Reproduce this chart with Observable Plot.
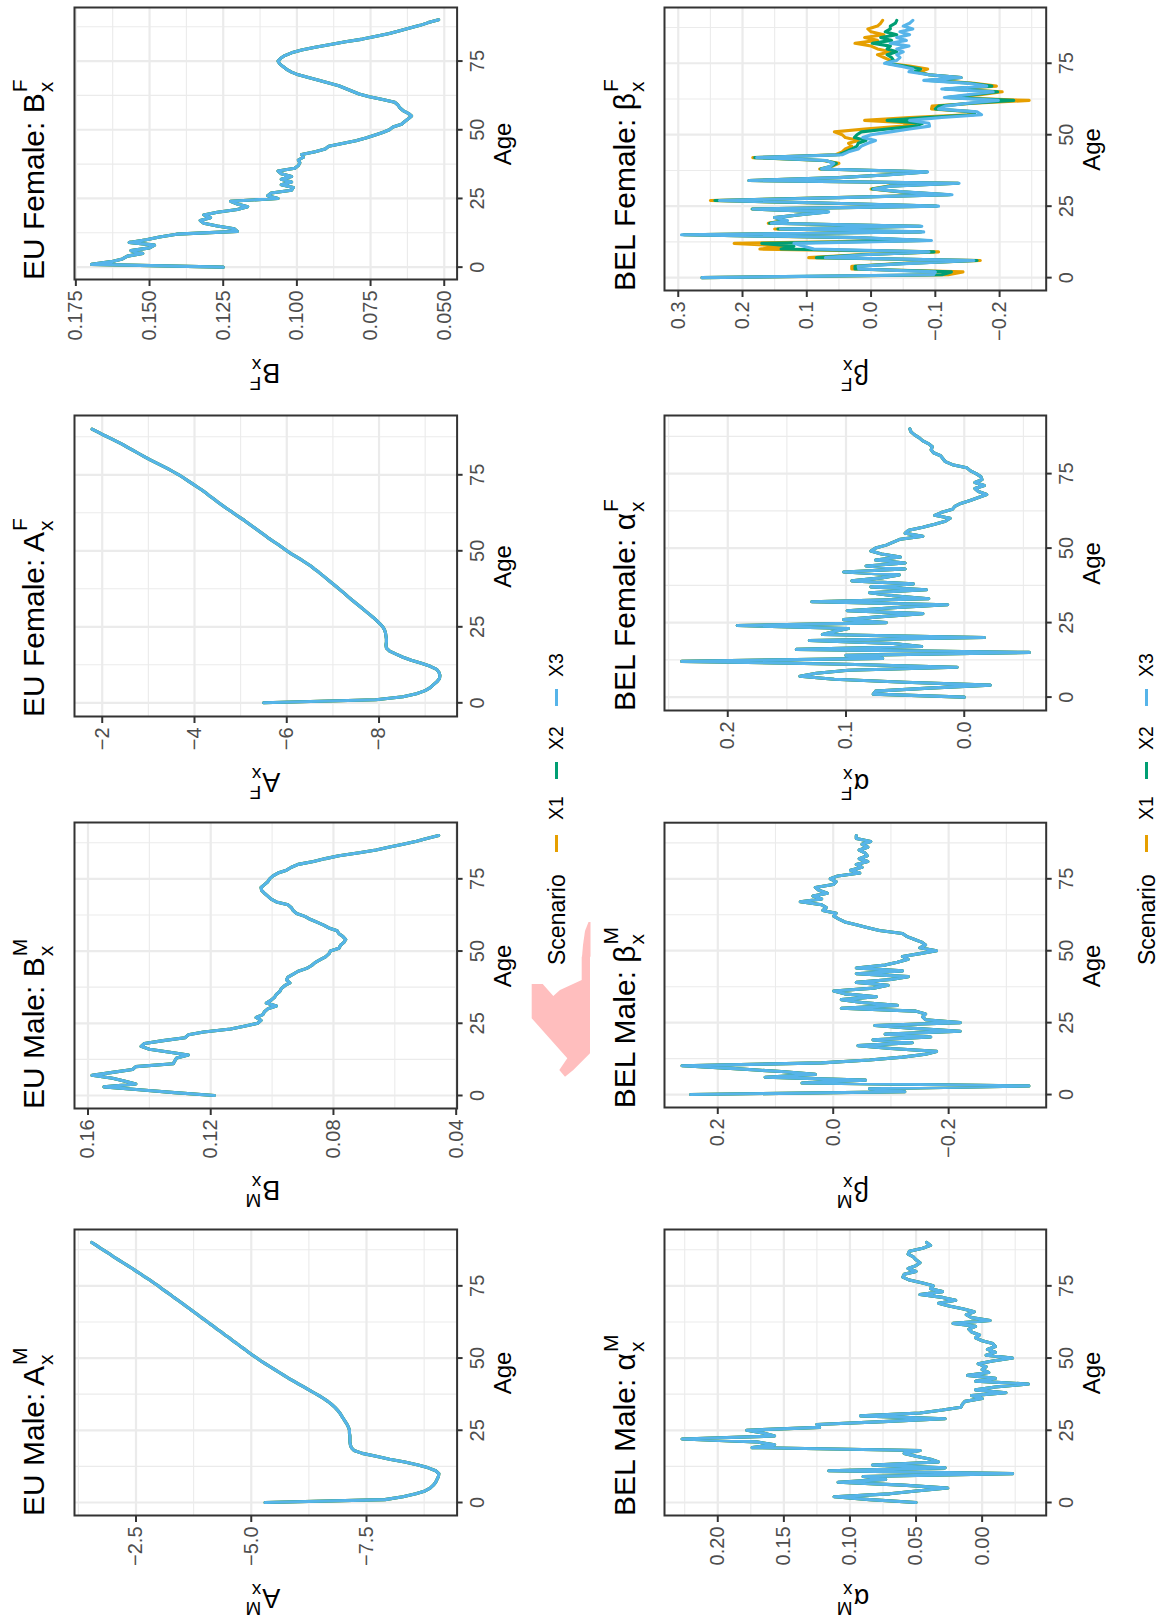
<!DOCTYPE html>
<html>
<head>
<meta charset="utf-8">
<script src="https://cdn.jsdelivr.net/npm/d3@7"></script>
<script src="https://cdn.jsdelivr.net/npm/@observablehq/plot@0.6"></script>
<style>
html,body{margin:0;padding:0;background:#fff;}
body{width:1164px;height:1621px;overflow:hidden;position:relative;}
#page{position:absolute;left:0;top:0;width:1621px;height:1164px;transform-origin:0 0;transform:translate(0px,1621px) rotate(-90deg);font-family:"Liberation Sans",Arial,Helvetica,sans-serif;color:#000;background:#fff;}
.abs{position:absolute;white-space:nowrap;line-height:1;}
</style>
</head>
<body>
<div id="page"></div>
<script>
// ---------- data ----------
const ages = d3.range(0, 91);
const scenarios = ["X1", "X2", "X3"];
const scenarioColors = ["#E69F00", "#009E73", "#56B4E9"];
const ageMajor = [0, 25, 50, 75];
const ageMinor = [12.5, 37.5, 62.5, 87.5];

const euMaleA = [-5.30,-7.90,-8.29,-8.57,-8.77,-8.88,-8.95,-9.00,-9.03,-9.06,
 -9.07,-9.00,-8.84,-8.62,-8.33,-8.00,-7.71,-7.41,-7.23,-7.17,
 -7.15,-7.14,-7.14,-7.14,-7.13,-7.13,-7.11,-7.08,-7.04,-7.00,
 -6.96,-6.92,-6.87,-6.81,-6.74,-6.66,-6.57,-6.47,-6.36,-6.25,
 -6.14,-6.03,-5.92,-5.81,-5.71,-5.61,-5.51,-5.41,-5.31,-5.21,
 -5.12,-5.03,-4.94,-4.86,-4.77,-4.69,-4.60,-4.52,-4.43,-4.35,
 -4.26,-4.18,-4.09,-4.01,-3.92,-3.84,-3.75,-3.67,-3.58,-3.50,
 -3.41,-3.32,-3.24,-3.15,-3.06,-2.98,-2.89,-2.80,-2.70,-2.61,
 -2.51,-2.42,-2.32,-2.22,-2.12,-2.02,-1.93,-1.83,-1.73,-1.64,
 -1.54];
const euMaleB = [0.1188,0.1318,0.1433,0.1548,0.1444,0.1482,0.1520,0.1587,0.1520,0.1455,
 0.1444,0.1322,0.1317,0.1311,0.1273,0.1333,0.1400,0.1427,0.1416,0.1355,
 0.1284,0.1273,0.1223,0.1135,0.1091,0.1047,0.1036,0.1052,0.1030,0.1025,
 0.1014,0.0986,0.1019,0.1003,0.0992,0.0986,0.0975,0.0970,0.0959,0.0942,
 0.0953,0.0948,0.0931,0.0915,0.0887,0.0871,0.0860,0.0843,0.0826,0.0815,
 0.0810,0.0782,0.0777,0.0766,0.0760,0.0769,0.0782,0.0788,0.0815,0.0832,
 0.0854,0.0876,0.0893,0.0920,0.0931,0.0937,0.0948,0.0986,0.1003,0.1014,
 0.1025,0.1034,0.1036,0.1025,0.1014,0.1008,0.0997,0.0981,0.0953,0.0937,
 0.0915,0.0865,0.0826,0.0782,0.0716,0.0661,0.0617,0.0573,0.0529,0.0496,
 0.0457];
const euFemaleA = [-5.50,-7.93,-8.52,-8.81,-9.00,-9.11,-9.18,-9.26,-9.31,-9.32,
 -9.30,-9.25,-9.11,-8.92,-8.70,-8.52,-8.37,-8.23,-8.16,-8.15,
 -8.16,-8.16,-8.15,-8.14,-8.12,-8.08,-8.02,-7.95,-7.88,-7.80,
 -7.72,-7.64,-7.56,-7.48,-7.40,-7.32,-7.25,-7.17,-7.09,-7.01,
 -6.93,-6.85,-6.77,-6.69,-6.60,-6.52,-6.42,-6.32,-6.21,-6.10,
 -6.00,-5.91,-5.82,-5.72,-5.62,-5.53,-5.44,-5.35,-5.26,-5.17,
 -5.08,-4.98,-4.88,-4.79,-4.69,-4.60,-4.51,-4.42,-4.33,-4.25,
 -4.16,-4.06,-3.96,-3.86,-3.76,-3.66,-3.54,-3.42,-3.29,-3.16,
 -3.03,-2.91,-2.79,-2.67,-2.55,-2.44,-2.31,-2.18,-2.04,-1.91,
 -1.78];
const euFemaleB = [0.1250,0.1697,0.1630,0.1592,0.1575,0.1523,0.1563,0.1500,0.1483,0.1569,
 0.1511,0.1466,0.1408,0.1202,0.1213,0.1270,0.1316,0.1328,0.1293,0.1316,
 0.1270,0.1202,0.1167,0.1202,0.1225,0.1064,0.1099,0.1087,0.1018,0.1012,
 0.1053,0.1018,0.1053,0.1018,0.1053,0.1064,0.1007,0.0995,0.0990,0.0995,
 0.0978,0.0984,0.0938,0.0904,0.0892,0.0846,0.0800,0.0766,0.0737,0.0709,
 0.0686,0.0674,0.0645,0.0634,0.0622,0.0611,0.0622,0.0640,0.0651,0.0657,
 0.0668,0.0709,0.0754,0.0789,0.0812,0.0835,0.0858,0.0892,0.0926,0.0961,
 0.0995,0.1018,0.1035,0.1047,0.1058,0.1064,0.1055,0.1041,0.1018,0.0984,
 0.0938,0.0886,0.0835,0.0777,0.0731,0.0686,0.0651,0.0617,0.0582,0.0554,
 0.0519];
const belMaleAlpha = [0.050,0.085,0.112,0.070,0.050,0.026,0.060,0.109,0.073,0.090,
 -0.023,0.116,0.028,0.083,0.033,0.039,0.050,0.059,0.047,0.174,
 0.157,0.171,0.227,0.157,0.165,0.178,0.123,0.125,0.075,0.028,
 0.092,0.047,0.030,0.016,0.015,0.013,0.000,0.008,-0.018,0.005,
 -0.010,-0.035,0.005,-0.010,0.011,-0.005,0.000,-0.003,0.003,-0.008,
 -0.023,-0.003,-0.010,-0.004,-0.010,-0.008,0.000,0.005,0.002,0.008,
 0.010,0.005,0.022,-0.006,0.008,0.012,0.006,0.014,0.025,0.033,
 0.020,0.030,0.047,0.030,0.039,0.037,0.045,0.055,0.060,0.059,
 0.050,0.056,0.050,0.047,0.050,0.052,0.056,0.055,0.045,0.039,
 0.042];
const belMaleBeta = [0.247,-0.124,-0.063,-0.339,0.054,-0.056,0.118,0.031,0.090,0.170,
 0.262,0.020,-0.063,-0.120,-0.160,-0.179,-0.100,-0.043,-0.137,-0.069,
 -0.169,-0.090,-0.220,-0.140,-0.072,-0.220,-0.160,-0.155,-0.160,-0.143,
 -0.014,-0.111,-0.050,-0.014,-0.075,-0.020,-0.001,-0.070,-0.095,-0.040,
 -0.100,-0.130,-0.040,-0.120,-0.040,-0.090,-0.111,-0.130,-0.120,-0.150,
 -0.179,-0.150,-0.160,-0.153,-0.140,-0.127,-0.120,-0.080,-0.060,-0.040,
 -0.020,-0.010,-0.001,-0.005,0.018,0.012,0.020,0.057,0.020,0.035,
 0.010,0.025,0.031,0.000,-0.005,0.005,-0.008,-0.046,-0.030,-0.050,
 -0.040,-0.060,-0.045,-0.059,-0.055,-0.045,-0.060,-0.050,-0.065,-0.040,
 -0.040];
const belFemaleAlpha = [0.000,0.077,0.075,0.030,-0.022,0.050,0.110,0.139,0.125,0.098,
 0.006,0.100,0.239,0.069,0.100,-0.055,0.142,0.036,0.060,0.131,
 -0.017,0.120,0.110,0.098,0.192,0.066,0.102,0.070,0.035,0.099,
 0.060,0.014,0.129,0.030,0.060,0.080,0.032,0.079,0.043,0.095,
 0.070,0.055,0.102,0.050,0.083,0.050,0.075,0.054,0.070,0.079,
 0.075,0.066,0.060,0.054,0.035,0.050,0.047,0.035,0.025,0.016,
 0.012,0.025,0.019,0.010,0.008,0.003,-0.005,-0.012,-0.019,-0.012,
 -0.009,-0.017,-0.009,-0.015,-0.014,-0.010,-0.005,-0.002,0.010,0.016,
 0.018,0.020,0.026,0.028,0.027,0.030,0.035,0.038,0.042,0.045,
 0.046];
const belFemaleBetaX1 = [0.263,-0.120,-0.143,0.030,0.030,-0.050,-0.170,0.097,0.020,-0.105,
 0.173,0.130,0.213,-0.080,0.030,0.290,-0.075,0.150,-0.075,0.160,
 0.135,0.150,0.110,0.070,0.185,-0.100,0.065,0.250,0.055,-0.120,
 -0.045,0.000,-0.025,-0.135,0.190,0.050,-0.025,-0.085,0.080,0.060,
 0.050,0.075,0.184,0.055,0.045,0.040,0.030,0.035,0.020,0.040,
 0.045,0.057,0.010,-0.050,-0.070,0.010,-0.060,-0.150,-0.160,-0.094,
 -0.095,-0.160,-0.246,-0.120,-0.170,-0.204,-0.120,-0.195,-0.160,-0.100,
 -0.140,-0.090,-0.075,-0.088,-0.060,-0.025,-0.030,-0.020,-0.010,-0.030,
 -0.010,0.000,0.025,-0.010,0.010,-0.020,0.000,0.005,-0.010,-0.015,
 -0.018];
const belFemaleBetaX2 = [0.263,-0.110,-0.125,0.025,0.025,-0.055,-0.165,0.085,0.015,-0.098,
 0.140,0.120,0.170,-0.087,0.025,0.292,-0.078,0.145,-0.077,0.158,
 0.132,0.150,0.110,0.068,0.185,-0.102,0.062,0.243,0.052,-0.123,
 -0.048,-0.002,-0.028,-0.136,0.190,0.050,-0.028,-0.087,0.078,0.062,
 0.054,0.072,0.181,0.050,0.040,0.030,0.022,0.020,0.008,0.026,
 0.022,0.015,-0.025,-0.070,-0.080,-0.025,-0.085,-0.160,-0.162,-0.100,
 -0.105,-0.155,-0.222,-0.117,-0.160,-0.197,-0.115,-0.188,-0.155,-0.090,
 -0.140,-0.090,-0.067,-0.077,-0.052,-0.023,-0.035,-0.032,-0.025,-0.040,
 -0.025,-0.030,-0.002,-0.032,-0.015,-0.040,-0.022,-0.030,-0.030,-0.038,
 -0.040];
const belFemaleBetaX3 = [0.263,-0.097,-0.100,0.019,0.020,-0.060,-0.160,0.071,0.010,-0.090,
 0.089,0.105,0.120,-0.094,0.020,0.295,-0.082,0.141,-0.079,0.155,
 0.130,0.150,0.110,0.066,0.184,-0.105,0.060,0.236,0.050,-0.126,
 -0.050,-0.004,-0.030,-0.137,0.190,0.050,-0.030,-0.088,0.077,0.063,
 0.058,0.070,0.178,0.045,0.035,0.020,0.015,0.005,-0.007,0.013,
 0.000,-0.030,-0.060,-0.091,-0.090,-0.060,-0.110,-0.172,-0.165,-0.105,
 -0.115,-0.150,-0.198,-0.114,-0.150,-0.190,-0.110,-0.180,-0.150,-0.082,
 -0.140,-0.090,-0.059,-0.065,-0.045,-0.021,-0.040,-0.045,-0.040,-0.050,
 -0.040,-0.059,-0.030,-0.055,-0.040,-0.060,-0.045,-0.065,-0.050,-0.060,
 -0.065];

const yTicksEuMaleA = [-7.5, -5, -2.5];
const yMinorEuMaleA = [-8.75, -6.25, -3.75, -1.25];
const yTicksEuMaleB = [0.04, 0.08, 0.12, 0.16];
const yMinorEuMaleB = [0.06, 0.10, 0.14];
const yTicksEuFemaleA = [-8, -6, -4, -2];
const yMinorEuFemaleA = [-9, -7, -5, -3];
const yTicksEuFemaleB = [0.05, 0.075, 0.1, 0.125, 0.15, 0.175];
const yMinorEuFemaleB = [0.0625, 0.0875, 0.1125, 0.1375, 0.1625];
const yTicksBelMaleAlpha = [0, 0.05, 0.1, 0.15, 0.2];
const yMinorBelMaleAlpha = [-0.025, 0.025, 0.075, 0.125, 0.175, 0.225];
const yTicksBelMaleBeta = [-0.2, 0, 0.2];
const yMinorBelMaleBeta = [-0.3, -0.1, 0.1];
const yTicksBelFemaleAlpha = [0, 0.1, 0.2];
const yMinorBelFemaleAlpha = [-0.05, 0.05, 0.15, 0.25];
const yTicksBelFemaleBeta = [-0.2, -0.1, 0, 0.1, 0.2, 0.3];
const yMinorBelFemaleBeta = [-0.25, -0.15, -0.05, 0.05, 0.15, 0.25];

// ---------- layout ----------
const FONT = '"Liberation Sans", Arial, Helvetica, sans-serif';
const page = document.getElementById("page");
const GRID = "#EBEBEB";
const rowGeom = [
  {frameT: 73.7, frameB: 456.3, titleBase: 44, ageBase: 511, legendC: 556},
  {frameT: 663.8, frameB: 1045.5, titleBase: 635, ageBase: 1100, legendC: 1146}
];
const panels = [
  {row:0, L:105, R:391, name:"EU Male:", sym:"A", sup:"M", ytX:33, domain:[-9.465,-1.166], ticks:yTicksEuMaleA, minor:yMinorEuMaleA, fmt:".1f", series:[euMaleA, euMaleA, euMaleA]},
  {row:0, L:512, R:798, name:"EU Male:", sym:"B", sup:"M", ytX:441, domain:[0.0397,0.1644], ticks:yTicksEuMaleB, minor:yMinorEuMaleB, fmt:".2f", series:[euMaleB, euMaleB, euMaleB]},
  {row:0, L:904, R:1205, name:"EU Female:", sym:"A", sup:"F", ytX:849, domain:[-9.692,-1.399], ticks:yTicksEuFemaleA, minor:yMinorEuFemaleA, fmt:"d", series:[euFemaleA, euFemaleA, euFemaleA]},
  {row:0, L:1341, R:1613, name:"EU Female:", sym:"B", sup:"F", ytX:1258, domain:[0.04564,0.17546], ticks:yTicksEuFemaleB, minor:yMinorEuFemaleB, fmt:".3f", series:[euFemaleB, euFemaleB, euFemaleB]},
  {row:1, L:105, R:391, name:"BEL Male:", sym:"α", sup:"M", ytX:33, domain:[-0.04845,0.2403], ticks:yTicksBelMaleAlpha, minor:yMinorBelMaleAlpha, fmt:".2f", series:[belMaleAlpha, belMaleAlpha, belMaleAlpha]},
  {row:1, L:512.7, R:797.5, name:"BEL Male:", sym:"β", sup:"M", ytX:440, domain:[-0.369,0.2923], ticks:yTicksBelMaleBeta, minor:yMinorBelMaleBeta, fmt:".1f", series:[belMaleBeta, belMaleBeta, belMaleBeta]},
  {row:1, L:910, R:1205, name:"BEL Female:", sym:"α", sup:"F", ytX:848, domain:[-0.0693,0.2535], ticks:yTicksBelFemaleAlpha, minor:yMinorBelFemaleAlpha, fmt:".1f", series:[belFemaleAlpha, belFemaleAlpha, belFemaleAlpha]},
  {row:1, L:1330, R:1613, name:"BEL Female:", sym:"β", sup:"F", ytX:1257, domain:[-0.2725,0.3214], ticks:yTicksBelFemaleBeta, minor:yMinorBelFemaleBeta, fmt:".1f", series:[belFemaleBetaX1, belFemaleBetaX2, belFemaleBetaX3]}
];

function mathHTML(sym, sup, fs, raise, drop) {
  const s = 0.7 * fs;
  return `${sym}<span style="display:inline-block;position:relative;width:${(0.62*s+1).toFixed(1)}px;height:0px"><span style="position:absolute;left:1px;bottom:${(raise*fs - 0.1535*s).toFixed(1)}px;font-size:${s.toFixed(1)}px;line-height:1">${sup}</span><span style="position:absolute;left:1px;top:${(drop*fs - 0.8465*s).toFixed(1)}px;font-size:${s.toFixed(1)}px;line-height:1">x</span></span>`;
}
function hText(html, x, baseline, fs, align, color) {
  const d = document.createElement("div");
  d.className = "abs";
  d.style.fontSize = fs + "px";
  d.style.left = x + "px";
  d.style.top = (baseline - 0.8465 * fs) + "px";
  if (align === "center") d.style.transform = "translateX(-50%)";
  if (color) d.style.color = color;
  d.innerHTML = html;
  page.appendChild(d);
}
function vText(html, baselineX, cy, fs) {
  const d = document.createElement("div");
  d.className = "abs";
  d.style.fontSize = fs + "px";
  d.style.left = (baselineX - 0.3465 * fs) + "px";
  d.style.top = cy + "px";
  d.style.transform = "translate(-50%,-50%) rotate(-90deg)";
  d.innerHTML = html;
  page.appendChild(d);
}

panels.forEach(p => {
  const g = rowGeom[p.row];
  const fw = p.R - p.L, fh = g.frameB - g.frameT;
  const ML = 100, MR = 12, MT = 12, MB = 44;
  const rows = [];
  scenarios.forEach((s, k) => p.series[k].forEach((v, i) => rows.push({age: ages[i], value: v, scenario: s})));
  const svg = Plot.plot({
    width: fw + ML + MR, height: fh + MT + MB,
    marginLeft: ML, marginRight: MR, marginTop: MT, marginBottom: MB,
    style: {background: "transparent", fontFamily: FONT, overflow: "visible"},
    x: {domain: [-4.5, 94.5]},
    y: {domain: p.domain},
    color: {domain: scenarios, range: scenarioColors},
    marks: [
      Plot.gridX(ageMinor, {stroke: GRID, strokeOpacity: 1, strokeWidth: 1.1}),
      Plot.gridY(p.minor, {stroke: GRID, strokeOpacity: 1, strokeWidth: 1.1}),
      Plot.gridX(ageMajor, {stroke: GRID, strokeOpacity: 1, strokeWidth: 2.2}),
      Plot.gridY(p.ticks, {stroke: GRID, strokeOpacity: 1, strokeWidth: 2.2}),
      Plot.line(rows, {x: "age", y: "value", z: "scenario", stroke: "scenario", strokeWidth: 3.1}),
      Plot.frame({stroke: "#333333", strokeWidth: 2}),
      Plot.axisX(ageMajor, {tickSize: 6, tickPadding: 7, fontSize: 20, fill: "#4D4D4D", stroke: "#333333", strokeWidth: 2, label: null}),
      Plot.axisY(p.ticks, {tickSize: 6, tickPadding: 5, fontSize: 20, fill: "#4D4D4D", stroke: "#333333", strokeWidth: 2, tickFormat: d3.format(p.fmt), label: null})
    ]
  });
  svg.style.position = "absolute";
  svg.style.left = (p.L - ML) + "px";
  svg.style.top = (g.frameT - MT) + "px";
  svg.style.maxWidth = "none";
  page.appendChild(svg);

  hText(`${p.name} ${mathHTML(p.sym, p.sup, 30, 0.55, 0.3)}`, p.L, g.titleBase, 30);
  hText("Age", (p.L + p.R) / 2, g.ageBase, 24, "center");
  vText(mathHTML(p.sym, p.sup, 27, 0.43, 0.22), p.ytX, (g.frameT + g.frameB) / 2, 27);
});

// legends (one per row)
const keyCenters = [777, 850, 923];
const labelLefts = [801, 871, 944];
rowGeom.forEach(g => {
  hText("Scenario", 656, g.legendC + 9, 23);
  scenarios.forEach((s, i) => {
    const k = document.createElement("div");
    k.style.cssText = `position:absolute;left:${keyCenters[i]-8.5}px;top:${g.legendC-1.5}px;width:17px;height:3px;background:${scenarioColors[i]}`;
    page.appendChild(k);
    hText(s, labelLefts[i], g.legendC + 7, 19.4);
  });
});

// decorative pink mark seen in the reference between the rows
const ns = "http://www.w3.org/2000/svg";
const deco = document.createElementNS(ns, "svg");
deco.setAttribute("width", 1621); deco.setAttribute("height", 1164);
deco.style.cssText = "position:absolute;left:0;top:0;pointer-events:none";
const blobShapes = [
  [[637,531.7],[637,542.7],[625,553.3],[631,560],[641,581.7],[664.3,581.7],[672.7,590],[567.7,590],[551,573.3],[544.3,565],[551,559.3],[562.7,567.3],[602.7,531.7]],
  [[664.3,582],[676,583],[690,585],[699,588.5],[699,590.5],[664.3,590.5]]
];
blobShapes.forEach(pts => {
  const poly = document.createElementNS(ns, "polygon");
  poly.setAttribute("points", pts.map(d => d.join(",")).join(" "));
  poly.setAttribute("fill", "#FFBEBE");
  deco.appendChild(poly);
});
page.appendChild(deco);
</script>
</body>
</html>
